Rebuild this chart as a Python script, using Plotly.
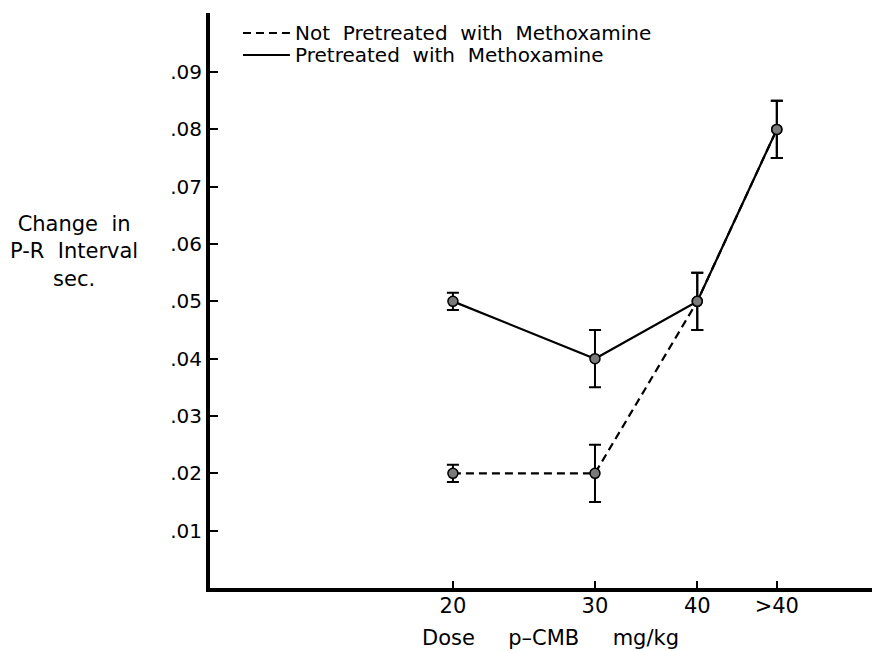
import plotly.graph_objects as go

# ---- data ----
doses = ["20", "30", "40", ">40"]
dose_axis_pos = [20, 30, 37.2, 42.8]          # where each dose category sits on the x axis
not_pretreated = [0.020, 0.020, 0.050, 0.080]
not_pretreated_err = [0.0015, 0.005, 0.005, 0.005]
pretreated = [0.050, 0.040, 0.050, 0.080]
pretreated_err = [0.0015, 0.005, 0.005, 0.005]
y_tickvals = [0.01, 0.02, 0.03, 0.04, 0.05, 0.06, 0.07, 0.08, 0.09]
y_ticktext = [".01", ".02", ".03", ".04", ".05", ".06", ".07", ".08", ".09"]
series_names = ["Not Pretreated with Methoxamine", "Pretreated with Methoxamine"]

FONT = "DejaVu Sans"
NB = "\u00a0"
fig = go.Figure()

marker = dict(size=10, color="#7a7a7a", line=dict(color="black", width=1.5))
dash_pat = "8px,5px"

fig.add_trace(go.Scatter(
    x=dose_axis_pos, y=not_pretreated, mode="lines+markers", name=series_names[0],
    line=dict(color="black", width=2.2, dash=dash_pat),
    marker=marker,
    error_y=dict(type="data", array=not_pretreated_err, color="black", thickness=2, width=6),
    showlegend=False))
fig.add_trace(go.Scatter(
    x=dose_axis_pos, y=pretreated, mode="lines+markers", name=series_names[1],
    line=dict(color="black", width=2.2),
    marker=marker,
    error_y=dict(type="data", array=pretreated_err, color="black", thickness=2, width=6),
    showlegend=False))

# hand-built key in the top-left corner
key_rows_y = [0.9652, 0.927]
key_dashes = [dash_pat, "solid"]
shapes = []
annotations = []
for name, ky, dsh in zip(series_names, key_rows_y, key_dashes):
    shapes.append(dict(type="line", xref="paper", yref="paper",
                       x0=0.0498, x1=0.1208, y0=ky, y1=ky,
                       line=dict(color="black", width=2.2, dash=dsh)))
    annotations.append(dict(text=name.replace(" ", NB + " "), xref="paper", yref="paper",
                            x=0.1254, y=ky, xanchor="left", yanchor="middle",
                            showarrow=False, font=dict(size=20)))

annotations += [
    dict(text="Change" + NB + " in<br>P-R" + NB + " Interval<br>sec.", xref="paper", yref="paper",
         x=-0.2054, y=0.585, xanchor="center", yanchor="middle",
         showarrow=False, align="center", font=dict(size=21)),
    dict(text="Dose" + NB * 5 + "p\u2013CMB" + NB * 5 + "mg/kg", xref="paper", yref="paper",
         x=0.5136, y=-0.087, xanchor="center", yanchor="middle",
         showarrow=False, font=dict(size=21)),
]

fig.update_layout(
    width=872, height=651,
    margin=dict(l=210, r=0, t=13, b=63),
    paper_bgcolor="white", plot_bgcolor="white",
    font=dict(family=FONT, color="black", size=20),
    showlegend=False,
    xaxis=dict(range=[2.9, 49.5], tickvals=dose_axis_pos, ticktext=doses,
               ticks="inside", ticklen=7, tickwidth=2, tickcolor="black",
               showline=True, linecolor="black", linewidth=4,
               showgrid=False, zeroline=False, tickfont=dict(size=21),
               ticklabelstandoff=-4),
    yaxis=dict(range=[0, 0.1003], tickvals=y_tickvals, ticktext=y_ticktext,
               ticks="inside", ticklen=8, tickwidth=2, tickcolor="black",
               showline=True, linecolor="black", linewidth=4,
               showgrid=False, zeroline=False, tickfont=dict(size=20),
               ticklabelstandoff=0),
    shapes=shapes,
    annotations=annotations,
)

fig.write_html("out.html")
